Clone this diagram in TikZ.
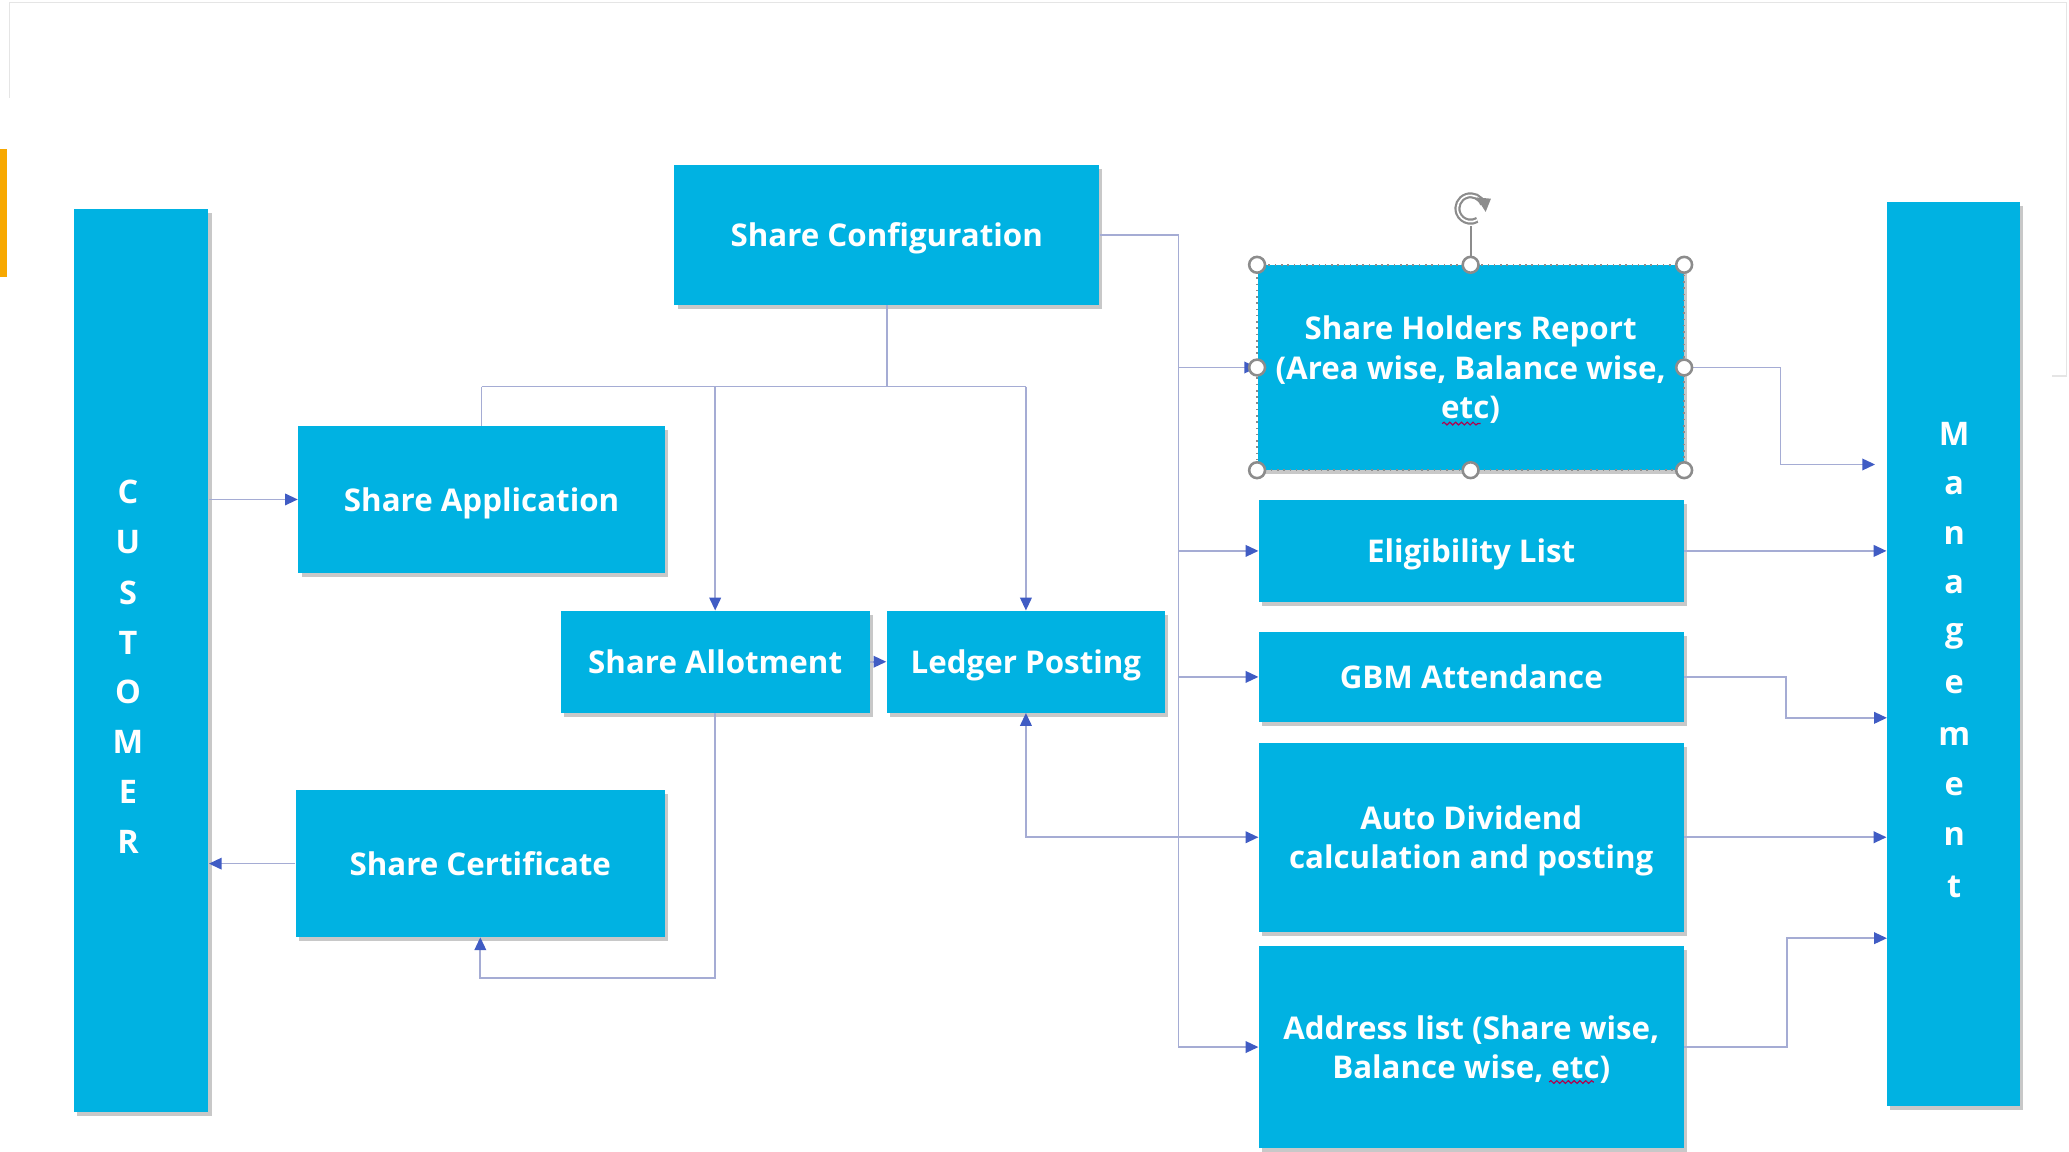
\documentclass[tikz,border=0pt]{standalone}
\usepackage{fontspec}
\newfontfamily\bx{Open Sans}
\usetikzlibrary{shadows,arrows.meta,decorations.pathmorphing}
\definecolor{boxc}{RGB}{0,178,226}
\definecolor{linec}{RGB}{165,172,212}
\definecolor{tipc}{RGB}{64,92,196}
\definecolor{orng}{RGB}{247,168,0}
\definecolor{hnd}{RGB}{140,140,140}
\begin{document}
\begin{tikzpicture}[x=0.02cm,y=-0.02cm,
 box/.style={fill=boxc, draw=none, text=white, font=\bx\bfseries\fontsize{13.5}{17}\selectfont,
   align=center, inner sep=0pt, text depth=0pt,
   drop shadow={shadow xshift=0.05cm,shadow yshift=-0.06cm,opacity=0.3,fill=black!70}},
 letter/.style={text=white, font=\bx\bfseries\fontsize{14}{15}\selectfont, inner sep=0pt},
 conn/.style={draw=linec, line width=0.7pt},
 arr/.style={conn, -{Triangle[length=5.5pt,width=5pt,color=tipc,fill=tipc]}},
 handle/.style={draw=hnd, fill=white, line width=1.1pt},
 spell/.style={red!70!blue, line width=0.5pt, decorate, decoration={snake, amplitude=0.6pt, segment length=2.5pt}},
]
% canvas
\fill[white] (0,0) rectangle (1568,873);
\useasboundingbox (0,0) rectangle (1568,873);
\draw[black!10, line width=0.6pt] (7,74) -- (7,2) -- (1566,2) -- (1566,285) -- (1555,285);
\fill[orng] (0,113) rectangle (5,210);

% boxes
\node[box, minimum width=2.04cm, minimum height=13.7cm] (cust) at (107,500.5) {};
\node[box, minimum width=2.02cm, minimum height=13.7cm] (mgmt) at (1480.5,495.5) {};
\node[box, minimum width=6.44cm, minimum height=2.12cm] (conf) at (672,178) {Share Configuration};
\node[box, minimum width=5.56cm, minimum height=2.22cm] (app) at (365,378.5) {Share Application};
\node[box, minimum width=4.68cm, minimum height=1.54cm] (allot) at (542,501.5) {Share Allotment};
\node[box, minimum width=4.22cm, minimum height=1.54cm] (ledger) at (777.5,501.5) {Ledger Posting};
\node[box, minimum width=5.6cm, minimum height=2.22cm] (cert) at (364,654.5) {Share Certificate};
\node[box, minimum width=6.46cm, minimum height=3.1cm] (shr) at (1114.5,278.5) {Share Holders Report\\(Area wise, Balance wise,\\etc)};
\node[box, minimum width=6.44cm, minimum height=1.54cm] (elig) at (1115,417.5) {Eligibility List};
\node[box, minimum width=6.44cm, minimum height=1.36cm] (gbm) at (1115,513) {GBM Attendance};
\node[box, minimum width=6.44cm, minimum height=2.86cm] (div) at (1115,634.5) {Auto Dividend\\calculation and posting};
\node[box, minimum width=6.44cm, minimum height=3.06cm] (addr) at (1115,793.5) {Address list (Share wise,\\Balance wise, etc)};

% vertical letters
\foreach \l/\y [count=\i] in {C/373,U/411,S/449,T/487,O/524,M/562,E/600,R/638}
  \node[letter] (c\i) at (97,\y) {\l};
\foreach \l/\y [count=\i] in {M/329,a/368,n/406,a/443,g/482,e/519,m/558,e/596,n/634,t/672}
  \node[letter] (m\i) at (1481,\y) {\l};

% spell-check underlines
\draw[spell] (1093,321) -- (1122,321);
\draw[spell] (1174,820) -- (1208,820);

% connectors from configuration
\coordinate (tk) at (893,178);
\coordinate (hb) at (672,293);
\draw[conn] (conf.east) -- (tk) -- (tk |- addr.west);
\draw[arr] (tk |- shr.west) -- (shr.west);
\draw[arr] (tk |- elig.west) -- (elig.west);
\draw[arr] (tk |- gbm.west) -- (gbm.west);
\draw[arr] (tk |- div.west) -- (div.west);
\draw[arr] (tk |- addr.west) -- (addr.west);
\draw[arr] (tk |- div.west) -| (ledger.south);
\draw[conn] (conf.south) -- (hb);
\draw[conn] (app.north |- hb) -- (ledger.north |- hb);
\draw[conn] (app.north |- hb) -- (app.north);
\draw[arr] (allot.north |- hb) -- (allot.north);
\draw[arr] (ledger.north |- hb) -- (ledger.north);

% customer side
\draw[arr] (cust.east |- app.west) -- (app.west);
\draw[arr] (cert.west) -- (cust.east |- cert.west);
\draw[arr] (allot.east) -- (ledger.west);
\coordinate (lb) at (364,741);
\draw[arr] (allot.south) |- (lb) -- (cert.south);

% to management
\coordinate (q1) at (1421,352);
\coordinate (q3) at (1430,544);
\coordinate (q5) at (1430,711);
\draw[arr] (shr.east) -- ++(73,0) |- (q1);
\draw[arr] (elig.east) -- (mgmt.west |- elig.east);
\draw[arr] (gbm.east) -- ++(77,0) |- (q3);
\draw[arr] (div.east) -- (mgmt.west |- div.east);
\draw[arr] (addr.east) -- ++(78,0) |- (q5);

% selection frame on share holders report
\draw[hnd, dotted, line width=0.7pt] (shr.north west) rectangle (shr.south east);
\coordinate (rot) at (1114.5,158);
\draw[hnd, line width=0.8pt] (shr.north) -- (1114.5,171);
\draw[hnd, line width=2.6pt] (rot) ++(-20:10) arc[start angle=-20, end angle=-300, radius=10];
\draw[white, line width=0.7pt] (rot) ++(-20:10) arc[start angle=-20, end angle=-300, radius=10];
\fill[hnd] (rot) ++(-20:10) ++(-5,-5) -- ++(11,1) -- ++(-4,10) -- cycle;
\foreach \a in {north west,north,north east,west,east,south west,south,south east}
  \draw[handle] (shr.\a) circle[radius=6];
\end{tikzpicture}
\end{document}
